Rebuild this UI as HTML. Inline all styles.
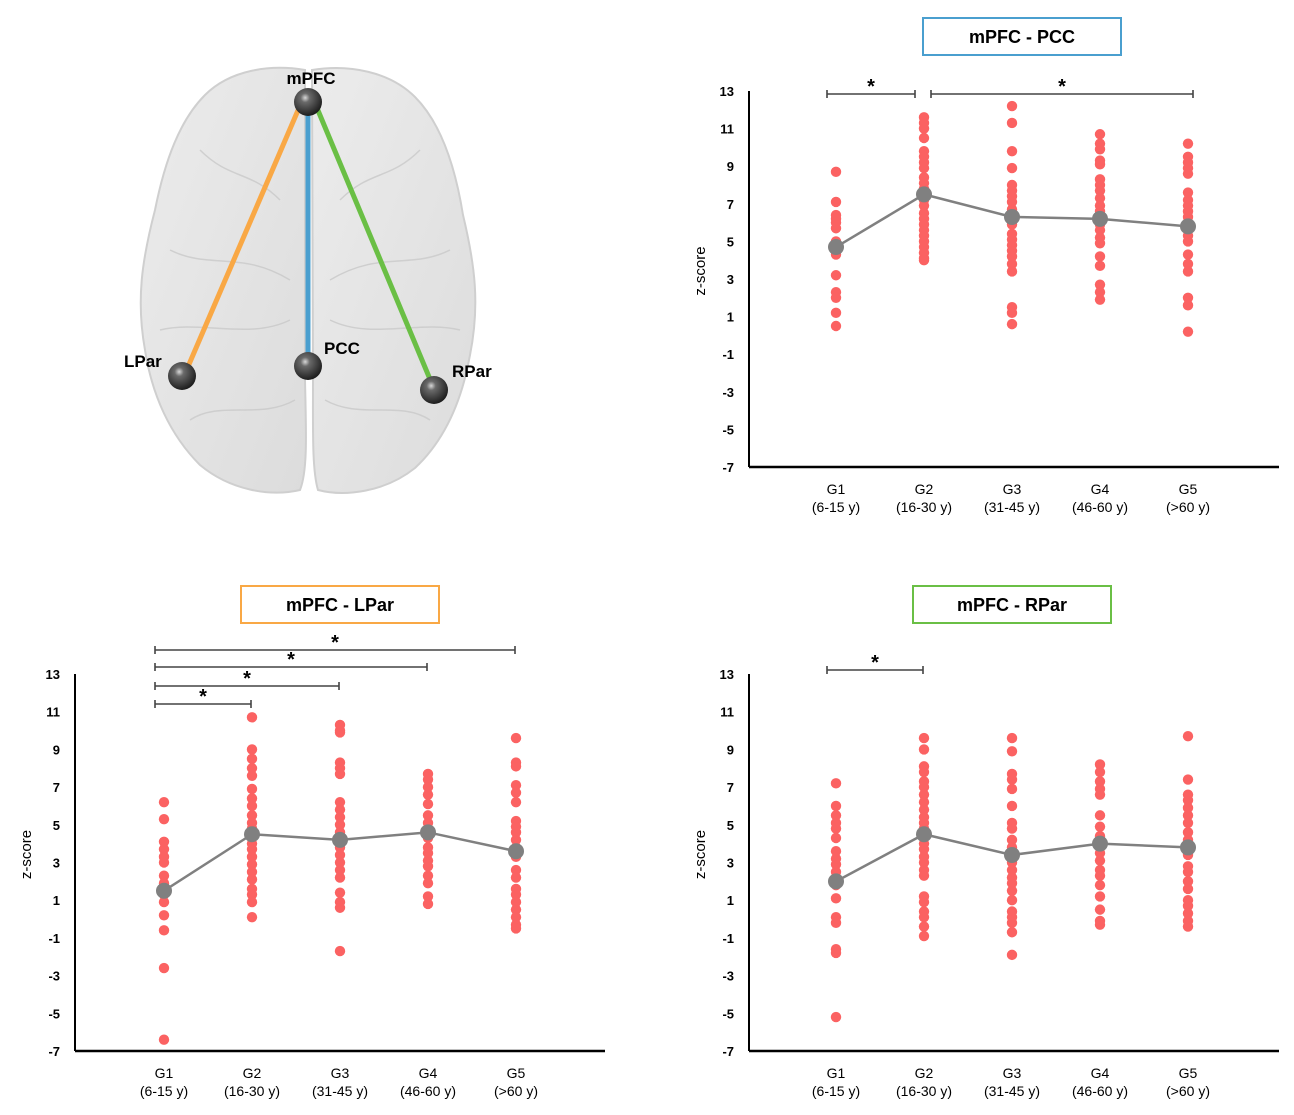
<!DOCTYPE html>
<html><head><meta charset="utf-8"><style>
body{margin:0;background:#fff;}
svg text{font-family:"Liberation Sans",sans-serif;}
</style></head><body>
<svg id="root" width="1294" height="1110" viewBox="0 0 1294 1110" xmlns="http://www.w3.org/2000/svg">
<defs>
<radialGradient id="ball" cx="0.4" cy="0.35" r="0.65"><stop offset="0" stop-color="#d8d8d8"/><stop offset="0.25" stop-color="#6a6a6a"/><stop offset="1" stop-color="#1e1e1e"/></radialGradient>
<linearGradient id="brainG" x1="0" y1="0" x2="1" y2="1"><stop offset="0" stop-color="#ececec"/><stop offset="1" stop-color="#dcdcdc"/></linearGradient>
</defs>
<g>
<path d="M305,70 C270,64 230,70 205,95 C180,120 165,160 155,210 C142,260 136,300 145,350 C152,395 170,435 200,465 C230,490 270,497 300,490 C308,470 306,430 305,380 Z" fill="url(#brainG)" stroke="#cfcfcf" stroke-width="2"/>
<path d="M312,70 C350,64 390,72 415,97 C440,122 455,165 463,215 C475,265 480,305 470,355 C462,400 445,440 415,468 C385,492 345,497 318,490 C312,470 313,430 313,380 Z" fill="url(#brainG)" stroke="#cfcfcf" stroke-width="2"/>
<g stroke="#c9c9c9" stroke-width="1.5" fill="none" opacity="0.8">
<path d="M200,150 C230,180 250,170 280,200 M170,250 C210,270 240,250 290,280 M160,330 C200,320 250,340 290,320 M190,420 C220,400 260,420 295,400"/>
<path d="M420,150 C390,180 370,170 340,200 M450,250 C410,270 380,250 330,280 M460,330 C420,320 370,340 330,320 M430,420 C400,400 360,420 325,400"/>
</g>
<line x1="299" y1="108" x2="187" y2="369" stroke="#f9a845" stroke-width="5"/>
<line x1="308" y1="108" x2="308" y2="360" stroke="#4a9fcf" stroke-width="5"/>
<line x1="317" y1="108" x2="432" y2="384" stroke="#6abf45" stroke-width="5"/>
<circle cx="308" cy="102" r="14" fill="url(#ball)"/>
<circle cx="308" cy="366" r="14" fill="url(#ball)"/>
<circle cx="182" cy="376" r="14" fill="url(#ball)"/>
<circle cx="434" cy="390" r="14" fill="url(#ball)"/>
<text x="311" y="84" text-anchor="middle" font-size="17" font-weight="bold">mPFC</text>
<text x="324" y="354" font-size="17" font-weight="bold">PCC</text>
<text x="124" y="367" font-size="17" font-weight="bold">LPar</text>
<text x="452" y="377" font-size="17" font-weight="bold">RPar</text>
</g>
</svg>
<script>
const groupNames = ["G1","G2","G3","G4","G5"];
const groupAges = ["(6-15 y)","(16-30 y)","(31-45 y)","(46-60 y)","(>60 y)"];
const yTicks = [13,11,9,7,5,3,1,-1,-3,-5,-7];

const pccG1 = [8.7,7.1,6.4,6.2,6.0,5.7,5.0,4.6,4.3,3.2,2.3,2.0,1.2,0.5];
const pccG2 = [11.6,11.3,11.0,10.5,9.8,9.5,9.2,8.9,8.4,8.1,7.8,7.5,7.2,6.9,6.5,6.2,5.9,5.6,5.3,5.0,4.7,4.4,4.1,4.0];
const pccG3 = [12.2,11.3,9.8,8.9,8.0,7.7,7.4,7.1,6.7,6.3,5.9,5.4,5.1,4.8,4.5,4.2,3.8,3.4,1.5,1.2,0.6];
const pccG4 = [10.7,10.2,9.9,9.3,9.1,8.3,8.0,7.7,7.3,6.9,6.6,6.2,5.9,5.6,5.2,4.9,4.2,3.7,2.7,2.3,1.9];
const pccG5 = [10.2,9.5,9.2,8.9,8.6,7.6,7.2,6.9,6.6,6.3,6.0,5.6,5.3,5.0,4.3,3.8,3.4,2.0,1.6,0.2];
const pccMeans = [4.7,7.5,6.3,6.2,5.8];

const lparG1 = [6.2,5.3,4.1,3.7,3.3,3.0,2.3,1.9,1.3,0.9,0.2,-0.6,-2.6,-6.4];
const lparG2 = [10.7,9.0,8.5,8.0,7.6,6.9,6.4,6.0,5.5,5.1,4.8,4.4,4.0,3.7,3.3,2.9,2.5,2.1,1.6,1.3,0.9,0.1];
const lparG3 = [10.3,10.0,9.9,8.3,8.0,7.7,6.2,5.8,5.4,5.0,4.6,4.2,3.8,3.4,3.0,2.6,2.2,1.4,0.9,0.6,-1.7];
const lparG4 = [7.7,7.4,7.0,6.6,6.1,5.5,5.1,4.7,4.3,3.8,3.5,3.1,2.8,2.3,1.9,1.2,0.8];
const lparG5 = [9.6,8.3,8.1,7.1,6.7,6.2,5.2,4.9,4.6,4.2,3.8,3.3,2.6,2.2,1.6,1.3,0.9,0.5,0.1,-0.3,-0.5];
const lparMeans = [1.5,4.5,4.2,4.6,3.6];

const rparG1 = [7.2,6.0,5.5,5.1,4.8,4.3,3.6,3.2,2.9,2.5,1.8,1.1,0.1,-0.2,-1.6,-1.8,-5.2];
const rparG2 = [9.6,9.0,8.1,7.8,7.3,7.0,6.6,6.2,5.8,5.4,5.1,4.8,4.4,4.0,3.7,3.3,3.0,2.6,2.3,1.2,0.9,0.4,0.1,-0.4,-0.9];
const rparG3 = [9.6,8.9,7.7,7.4,6.9,6.0,5.1,4.8,4.2,3.8,3.4,3.0,2.6,2.2,1.9,1.5,1.0,0.4,0.1,-0.2,-0.7,-1.9];
const rparG4 = [8.2,7.8,7.3,6.9,6.6,5.5,4.9,4.4,3.9,3.5,3.1,2.6,2.3,1.8,1.2,0.5,-0.1,-0.3];
const rparG5 = [9.7,7.4,6.6,6.3,5.9,5.5,5.1,4.6,4.2,3.4,2.8,2.5,2.0,1.6,1.0,0.7,0.3,-0.1,-0.4];
const rparMeans = [2.0,4.5,3.4,4.0,3.8];

const pccSig = [[0,1],[1,4]];
const lparSig = [[0,4],[0,3],[0,2],[0,1]];
const rparSig = [[0,1]];

const NS="http://www.w3.org/2000/svg";
const root=document.getElementById('root');
function mk(tag,attrs,parent){const e=document.createElementNS(NS,tag);for(const k in attrs)e.setAttribute(k,attrs[k]);(parent||root).appendChild(e);return e;}

function chart(cfg,groups,means,sig){
  const g=mk('g',{});
  
  
  const yS=v=>cfg.yTop+(13-v)*(cfg.yBot-cfg.yTop)/20;
  const xS=i=>cfg.x0+i*88;
  const tb=mk('rect',{x:cfg.tx,y:cfg.ty,width:198,height:37,fill:'#fff',stroke:cfg.color,'stroke-width':2},g);
  
  
  const tt=mk('text',{x:cfg.tx+99,y:cfg.ty+25,'text-anchor':'middle','font-size':18,'font-weight':'bold'},g);
  tt.textContent=cfg.title;
  
  
  const ya=mk('line',{x1:cfg.ax,y1:cfg.yTop,x2:cfg.ax,y2:cfg.yBot,stroke:'#000','stroke-width':2},g);
  
  
  const xa=mk('line',{x1:cfg.ax,y1:cfg.yBot,x2:cfg.ax+530,y2:cfg.yBot,stroke:'#000','stroke-width':2.5},g);
  
  
  yTicks.forEach(t=>{
    const tx=mk('text',{x:cfg.ax-15,y:yS(t)+5,'text-anchor':'end','font-size':13,'font-weight':'bold'},g);
    tx.textContent=t;
    
    
  });
  const yl=mk('text',{x:0,y:0,'text-anchor':'middle','font-size':15,transform:`translate(${cfg.ax-44},${(cfg.yTop+cfg.yBot)/2-8}) rotate(-90)`},g);
  yl.textContent='z-score';
  
  
  groupNames.forEach((n,i)=>{
    const a=mk('text',{x:xS(i),y:cfg.yBot+27,'text-anchor':'middle','font-size':14},g);
    a.textContent=n;
    
    
    const b=mk('text',{x:xS(i),y:cfg.yBot+45,'text-anchor':'middle','font-size':14},g);
    b.textContent=groupAges[i];
    
    
  });
  groups.forEach((arr,i)=>arr.forEach(v=>{
    const c=mk('circle',{cx:xS(i),cy:yS(v),r:5.2,fill:'#fb6262'},g);
    
    
  }));
  const pl=mk('polyline',{points:means.map((m,i)=>xS(i)+','+yS(m)).join(' '),fill:'none',stroke:'#808080','stroke-width':2.5},g);
  
  
  means.forEach((m,i)=>{
    const c=mk('circle',{cx:xS(i),cy:yS(m),r:8,fill:'#808080'},g);
    
    
  });
  sig.forEach((s,k)=>{
    const y=cfg.sigY[k];
    const x1=xS(s[0])-9+(cfg.sigOff?cfg.sigOff[k][0]:0), x2=xS(s[1])-1+(cfg.sigOff?cfg.sigOff[k][1]:0);
    const br=mk('path',{d:`M${x1},${y-4}V${y+4}M${x1},${y}H${x2}M${x2},${y-4}V${y+4}`,stroke:'#444','stroke-width':1.6,fill:'none'},g);
    
    
    const st=mk('text',{x:(x1+x2)/2,y:y-1,'text-anchor':'middle','font-size':20,'font-weight':'bold'},g);
    st.textContent='*';
    
    
  });
}
chart({name:'mpfc-pcc-chart',title:'mPFC - PCC',color:'#4a9fcf',tx:923,ty:18,ax:749,x0:836,yTop:91,yBot:467,sigY:[94,94],sigOff:[[0,-8],[16,6]]},
  [pccG1,pccG2,pccG3,pccG4,pccG5],pccMeans,pccSig);
chart({name:'mpfc-lpar-chart',title:'mPFC - LPar',color:'#f9a845',tx:241,ty:586,ax:75,x0:164,yTop:674,yBot:1051,sigY:[650,667,686,704]},
  [lparG1,lparG2,lparG3,lparG4,lparG5],lparMeans,lparSig);
chart({name:'mpfc-rpar-chart',title:'mPFC - RPar',color:'#6abf45',tx:913,ty:586,ax:749,x0:836,yTop:674,yBot:1051,sigY:[670]},
  [rparG1,rparG2,rparG3,rparG4,rparG5],rparMeans,rparSig);
</script>
</body></html>
